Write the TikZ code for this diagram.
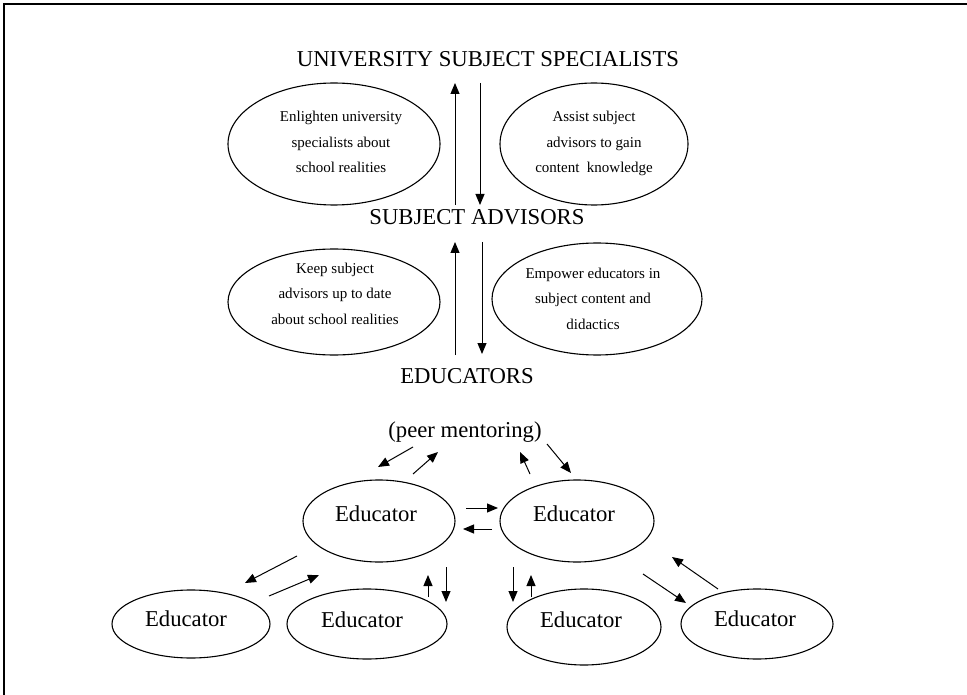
\documentclass[tikz,border=0pt]{standalone}
\usepackage{fontspec}
\setmainfont{Liberation Serif}
\usetikzlibrary{shapes.geometric,arrows.meta}
\begin{document}
\begin{tikzpicture}[x=1pt,y=-1pt,
  oval/.style={draw, ellipse, line width=1.1pt, inner sep=0pt},
  big/.style={font={\fontsize{22.7}{27}\selectfont}, anchor=base, inner sep=0pt},
  small/.style={font={\fontsize{15}{25.5}\selectfont}, align=center, anchor=base, inner sep=0pt},
  arr/.style={line width=1pt, -{Triangle[length=11pt,width=9pt]}},
]
\useasboundingbox (0,0) rectangle (967,695);
% frame
\coordinate (fa) at (4,695);
\coordinate (fb) at (4,4);
\coordinate (fc) at (967,4);
\draw[line width=1.2pt] (fa) -- (fb) -- (fc);

% headings
\node[big] (usp) at (488,67) {UNIVERSITY SUBJECT SPECIALISTS};
\node[big] (sad) at (477,225) {SUBJECT ADVISORS};
\node[big] (edu) at (467,383) {EDUCATORS};
\node[big] (peer) at (465,437) {(peer mentoring)};

% upper ellipses
\node[oval, minimum width=212pt, minimum height=122pt] (e1) at (334,144) {};
\node[small] (t1) at (341,173) {Enlighten university\\specialists about\\school realities};
\node[oval, minimum width=188pt, minimum height=122pt] (e2) at (594,144) {};
\node[small] (t2) at (594,173) {Assist subject\\advisors to gain\\content\ \ knowledge};
\node[oval, minimum width=212pt, minimum height=106pt] (e3) at (334,302) {};
\node[small] (t3) at (335,324) {Keep subject\\advisors up to date\\about school realities};
\node[oval, minimum width=210pt, minimum height=112pt] (e4) at (597,299) {};
\node[small] (t4) at (593,329) {Empower educators in\\subject content and\\didactics};

% vertical arrows
\coordinate (u1a) at (455,205); \coordinate (u1b) at (455,83);
\coordinate (d1a) at (480,83);  \coordinate (d1b) at (480,205);
\coordinate (u2a) at (455,355); \coordinate (u2b) at (455,242);
\coordinate (d2a) at (482,242); \coordinate (d2b) at (482,354);
\draw[arr] (u1a) -- (u1b);
\draw[arr] (d1a) -- (d1b);
\draw[arr] (u2a) -- (u2b);
\draw[arr] (d2a) -- (d2b);

% educator ellipses
\node[oval, minimum width=152pt, minimum height=82pt] (A) at (379,521) {};
\node[big] (tA) at (376,521) {Educator};
\node[oval, minimum width=154pt, minimum height=82pt] (B) at (577,521) {};
\node[big] (tB) at (574,521) {Educator};
\node[oval, minimum width=158pt, minimum height=68pt] (C) at (191,624) {};
\node[big] (tC) at (186,626) {Educator};
\node[oval, minimum width=160pt, minimum height=70pt] (D) at (367,624) {};
\node[big] (tD) at (362,627) {Educator};
\node[oval, minimum width=154pt, minimum height=76pt] (E) at (584,627) {};
\node[big] (tE) at (581,627) {Educator};
\node[oval, minimum width=152pt, minimum height=70pt] (F) at (757,624) {};
\node[big] (tF) at (755,626) {Educator};

% peer arrows
\coordinate (p1a) at (413,447); \coordinate (p1b) at (378,467);
\coordinate (p2a) at (413,474); \coordinate (p2b) at (438,452);
\coordinate (p3a) at (530,474); \coordinate (p3b) at (520,452);
\coordinate (p4a) at (547,444); \coordinate (p4b) at (571,473);
\coordinate (p5a) at (466,508); \coordinate (p5b) at (498,508);
\coordinate (p6a) at (492,529); \coordinate (p6b) at (463,529);
\coordinate (p7a) at (297,556); \coordinate (p7b) at (245,583);
\coordinate (p8a) at (269,596); \coordinate (p8b) at (319,575);
\coordinate (p9a) at (428,597); \coordinate (p9b) at (428,575);
\coordinate (p10a) at (446,567); \coordinate (p10b) at (446,602);
\coordinate (p11a) at (513,567); \coordinate (p11b) at (513,602);
\coordinate (p12a) at (531,597); \coordinate (p12b) at (531,575);
\coordinate (p13a) at (643,574); \coordinate (p13b) at (686,603);
\coordinate (p14a) at (718,589); \coordinate (p14b) at (672,557);
\foreach \i in {1,...,14} {\draw[arr] (p\i a) -- (p\i b);}
\end{tikzpicture}
\end{document}
